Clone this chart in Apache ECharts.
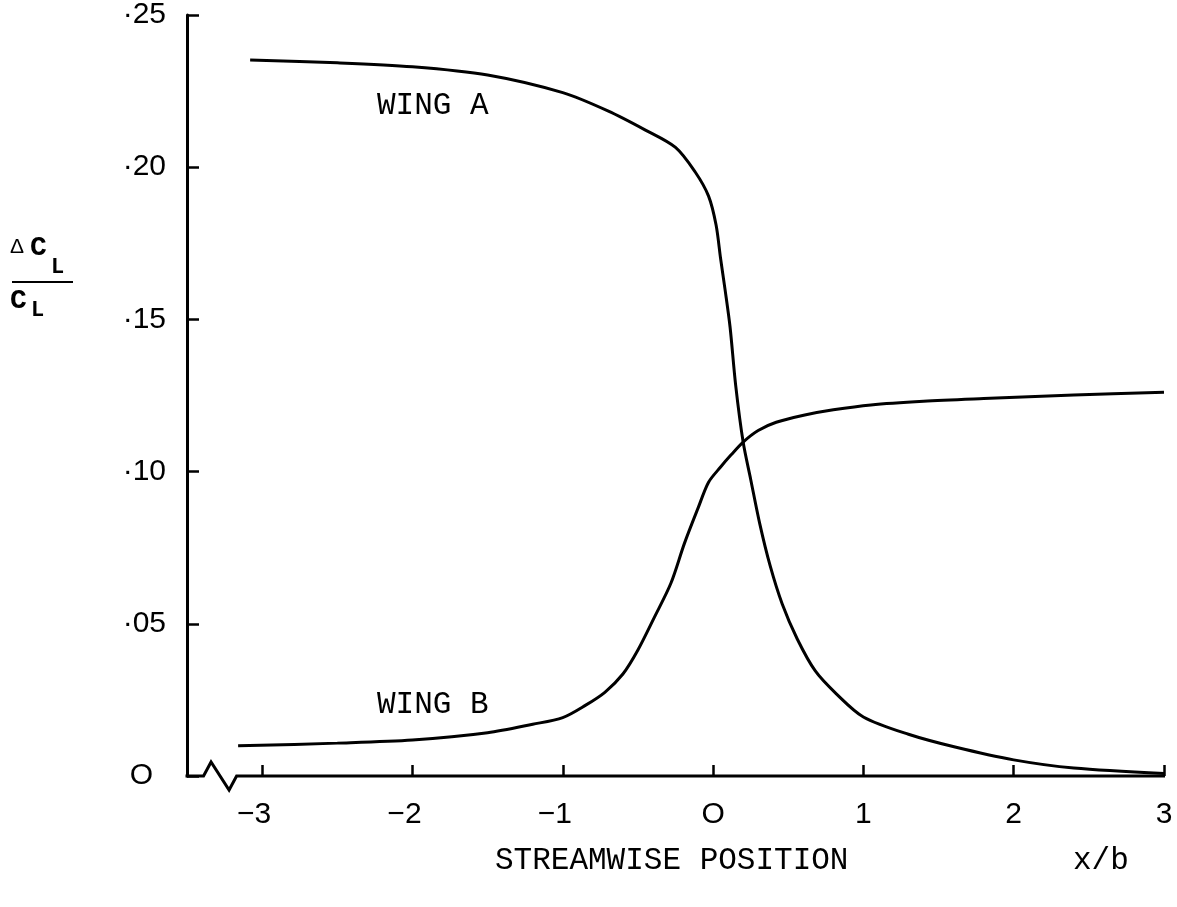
<!DOCTYPE html>
<html>
<head>
<meta charset="utf-8">
<script src="https://cdn.jsdelivr.net/npm/echarts@6/dist/echarts.min.js"></script>
<style>
  html, body { margin: 0; padding: 0; background: #fff; }
  #main { width: 1177px; height: 907px; }
</style>
</head>
<body>
<div id="main"></div>
<script>
// wing A curve
var wingAX = [-3.08, -2.5, -2.0, -1.5, -1.0, -0.7, -0.45, -0.25, -0.12, -0.03, 0.02, 0.05, 0.08, 0.113, 0.15, 0.2, 0.25, 0.31, 0.38, 0.46, 0.56, 0.68, 0.82, 1.0, 1.3, 1.61, 2.0, 2.4, 3.0];
var wingAY = [0.2352, 0.2343, 0.233, 0.2303, 0.2245, 0.2185, 0.2122, 0.2065, 0.1985, 0.1905, 0.181, 0.170, 0.1597, 0.1475, 0.1285, 0.1097, 0.0975, 0.083, 0.069, 0.0565, 0.045, 0.0345, 0.027, 0.0194, 0.0137, 0.0095, 0.0053, 0.0026, 0.0008];
// wing B curve
var wingBX = [-3.16, -2.5, -2.0, -1.5, -1.2, -1.0, -0.85, -0.72, -0.6, -0.5, -0.39, -0.28, -0.19, -0.1, -0.03, 0.05, 0.12, 0.2, 0.3, 0.42, 0.61, 0.8, 1.05, 1.4, 1.8, 2.4, 3.0];
var wingBY = [0.0099, 0.0108, 0.0118, 0.0142, 0.017, 0.0192, 0.0232, 0.0275, 0.0335, 0.0414, 0.0522, 0.0634, 0.0765, 0.088, 0.0965, 0.1015, 0.1055, 0.1097, 0.1135, 0.1162, 0.1186, 0.1203, 0.1219, 0.1231, 0.124, 0.1252, 0.1261];
var xTicks = [-3, -2, -1, 0, 1, 2, 3];
var yLabels = ['O', '·05', '·10', '·15', '·20', '·25'];

var mono = '"Liberation Mono", "DejaVu Sans Mono", monospace';
var sans = '"Liberation Sans", "DejaVu Sans", sans-serif';

function pairs(xs, ys) {
  let out = [];
  for (let i = 0; i < xs.length; i++) out.push([xs[i], ys[i]]);
  return out;
}

let myChart = echarts.init(document.getElementById('main'));
myChart.setOption({
  animation: false,
  backgroundColor: '#fff',
  grid: { left: 187, right: 13, top: 15, bottom: 131, containLabel: false },
  xAxis: {
    type: 'value',
    min: -3.5,
    max: 3,
    splitLine: { show: false },
    axisLine: { show: false, onZero: false },
    axisTick: {
      show: true, inside: true, length: 11,
      customValues: xTicks,
      lineStyle: { color: '#000', width: 2.5 }
    },
    axisLabel: {
      customValues: xTicks,
      margin: 24,
      color: '#000',
      fontFamily: sans,
      fontSize: 30,
      // digits sit on the tick, the minus hangs to the left
      formatter: function (v) {
        if (v < 0) return '\u2212' + Math.abs(v) + '{p|}';
        return v === 0 ? 'O' : String(v);
      },
      rich: { p: { width: 16 } }
    }
  },
  yAxis: {
    type: 'value',
    min: 0,
    max: 0.25,
    interval: 0.05,
    splitLine: { show: false },
    axisLine: { show: true, onZero: false, lineStyle: { color: '#000', width: 3 } },
    axisTick: { show: true, inside: true, length: 12, lineStyle: { color: '#000', width: 2.5 } },
    axisLabel: {
      margin: 21,
      color: '#000',
      fontFamily: sans,
      fontSize: 30,
      formatter: function (v) {
        let i = Math.round(v / 0.05);
        return i === 0 ? yLabels[0] + '{p|}' : yLabels[i];
      },
      rich: { p: { width: 13 } }
    }
  },
  series: [
    {
      name: 'WING A', type: 'line', data: pairs(wingAX, wingAY),
      showSymbol: false, smooth: 0.3,
      lineStyle: { color: '#000', width: 3 }
    },
    {
      name: 'WING B', type: 'line', data: pairs(wingBX, wingBY),
      showSymbol: false, smooth: 0.3,
      lineStyle: { color: '#000', width: 3 }
    }
  ]
});

// x axis baseline with the break zigzag near the origin
let p0 = myChart.convertToPixel({ gridIndex: 0 }, [-3.5, 0]);
let pEnd = myChart.convertToPixel({ gridIndex: 0 }, [3, 0]);
let zx = [-3.39, -3.34, -3.22, -3.17].map(function (v) { return myChart.convertToPixel({ gridIndex: 0 }, [v, 0])[0]; });
let by = p0[1];

myChart.setOption({
  graphic: [
    {
      type: 'polyline',
      shape: { points: [[p0[0] - 1.5, by], [zx[0], by], [zx[1], by - 14], [zx[2], by + 14], [zx[3], by], [pEnd[0] + 1, by]] },
      style: { stroke: '#000', lineWidth: 3, fill: null }
    },
    { type: 'text', left: 377, top: 90, style: { text: 'WING A', font: '31px ' + mono, fill: '#000' } },
    { type: 'text', left: 377, top: 689, style: { text: 'WING B', font: '31px ' + mono, fill: '#000' } },
    { type: 'text', left: 495, top: 845, style: { text: 'STREAMWISE POSITION', font: '31px ' + mono, fill: '#000' } },
    { type: 'text', left: 1073, top: 845, style: { text: 'x/b', font: '31px ' + mono, fill: '#000' } },
    // y axis title: delta C_L over C_L
    { type: 'text', left: 10, top: 237, style: { text: '\u0394', font: '21px ' + sans, fill: '#000' } },
    { type: 'text', left: 30, top: 234, style: { text: 'C', font: 'bold 28px ' + mono, fill: '#000' } },
    { type: 'text', left: 51, top: 256, style: { text: 'L', font: 'bold 22px ' + mono, fill: '#000' } },
    { type: 'line', shape: { x1: 12, y1: 282, x2: 73, y2: 282 }, style: { stroke: '#000', lineWidth: 2 } },
    { type: 'text', left: 10, top: 287, style: { text: 'C', font: 'bold 28px ' + mono, fill: '#000' } },
    { type: 'text', left: 31, top: 299, style: { text: 'L', font: 'bold 22px ' + mono, fill: '#000' } }
  ]
});
</script>
</body>
</html>
